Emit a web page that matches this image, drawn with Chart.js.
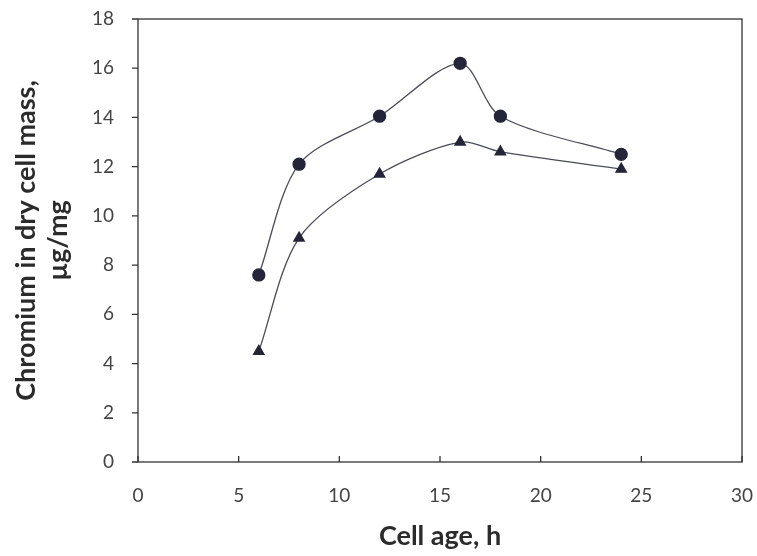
<!DOCTYPE html>
<html>
<head>
<meta charset="utf-8">
<script src="https://cdn.jsdelivr.net/npm/chart.js@4"></script>
<style>
  html, body { margin: 0; padding: 0; background: #fff; }
  #wrap { width: 757px; height: 556px; }
</style>
</head>
<body>
<div id="wrap"><canvas id="chart" width="757" height="556"></canvas></div>
<script>
// data
const cellAge = [6, 8, 12, 16, 18, 24];
const circleSeries = [7.6, 12.1, 14.05, 16.2, 14.05, 12.5];
const triangleSeries = [4.5, 9.1, 11.7, 13.0, 12.6, 11.9];
const xTicks = [0, 5, 10, 15, 20, 25, 30];
const yTicks = [0, 2, 4, 6, 8, 10, 12, 14, 16, 18];

const ink = '#25253a';
const lineCol = '#4a4d55';
const fontFam = 'Lato, "Open Sans", sans-serif';

// box + tick marks (x inward, y outward)
const frame = {
    id: 'frame',
    afterDraw(chart) {
        const { ctx, chartArea: a, scales } = chart;
        ctx.save();
        ctx.strokeStyle = '#333';
        ctx.lineWidth = 1.3;
        ctx.strokeRect(a.left, a.top, a.right - a.left, a.bottom - a.top);
        ctx.beginPath();
        scales.x.ticks.forEach((t, i) => {
            const px = scales.x.getPixelForTick(i);
            ctx.moveTo(px, a.bottom);
            ctx.lineTo(px, a.bottom - 6);
        });
        scales.y.ticks.forEach((t, i) => {
            const py = scales.y.getPixelForTick(i);
            ctx.moveTo(a.left, py);
            ctx.lineTo(a.left - 6, py);
        });
        ctx.stroke();
        ctx.restore();
    }
};

new Chart(document.getElementById('chart'), {
    type: 'line',
    data: {
        datasets: [
            {
                data: cellAge.map((x, i) => ({ x: x, y: circleSeries[i] })),
                borderColor: lineCol,
                borderWidth: 1.3,
                pointStyle: 'circle',
                pointRadius: 6,
                pointBackgroundColor: ink,
                pointBorderColor: ink,
                tension: 0.3
            },
            {
                data: cellAge.map((x, i) => ({ x: x, y: triangleSeries[i] })),
                borderColor: lineCol,
                borderWidth: 1.3,
                pointStyle: 'triangle',
                pointRadius: 6,
                pointBackgroundColor: ink,
                pointBorderColor: ink,
                tension: 0.3
            }
        ]
    },
    options: {
        responsive: false,
        animation: false,
        layout: { padding: { top: 19, right: 15, left: 0, bottom: 0 } },
        plugins: { legend: { display: false }, tooltip: { enabled: false } },
        scales: {
            x: {
                type: 'linear',
                min: 0, max: 30,
                afterBuildTicks: s => { s.ticks = xTicks.map(v => ({ value: v })); },
                afterFit: s => { s.height = 94; s.paddingLeft = 0; s.paddingRight = 0; },
                grid: { display: false, drawTicks: false },
                border: { display: false },
                ticks: { color: '#444', padding: 22, font: { family: fontFam, size: 19 } },
                title: {
                    display: true,
                    text: 'Cell age, h',
                    color: '#2b2b2b',
                    padding: { top: 6 },
                    font: { family: fontFam, size: 27, weight: 'bold' }
                }
            },
            y: {
                min: 0, max: 18,
                afterBuildTicks: s => { s.ticks = yTicks.map(v => ({ value: v })); },
                afterFit: s => { s.width = 138; s.paddingTop = 0; s.paddingBottom = 0; },
                grid: { display: false, drawTicks: false },
                border: { display: false },
                ticks: { color: '#444', padding: 24, font: { family: fontFam, size: 19 } },
                title: {
                    display: true,
                    text: ['Chromium in dry cell mass,', 'µg/mg'],
                    color: '#2b2b2b',
                    padding: { top: 10, bottom: 0 },
                    font: { family: fontFam, size: 27, weight: 'bold', lineHeight: 1.2 }
                }
            }
        }
    },
    plugins: [frame]
});
</script>
</body>
</html>
